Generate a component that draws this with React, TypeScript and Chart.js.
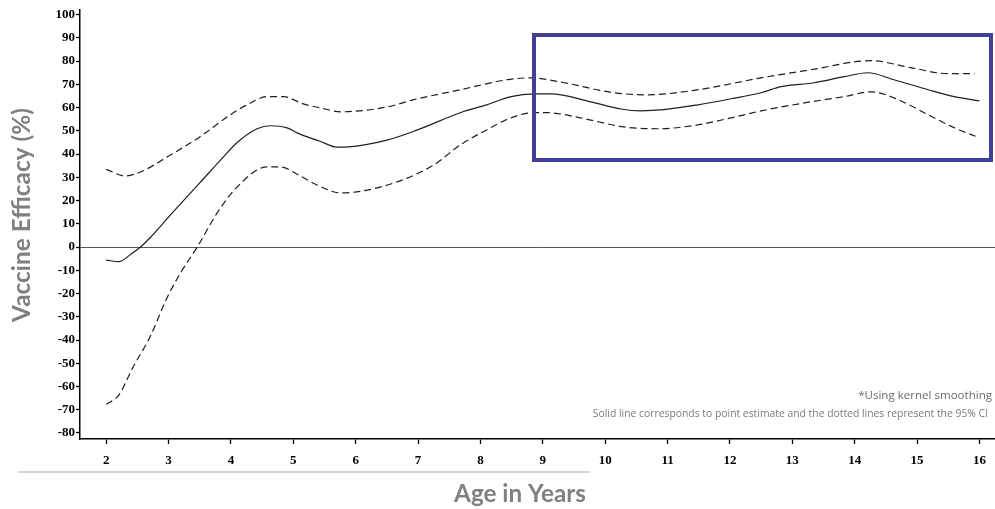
import React, { useEffect, useRef } from "react";
import { Chart, registerables } from "chart.js";

Chart.register(...registerables);

// Point estimate (solid line)
const estAges = [2.0, 2.2, 2.4, 2.55, 2.7, 3.03, 3.5, 3.88, 4.1, 4.42, 4.63, 4.9, 5.07, 5.43, 5.7, 5.88, 6.5, 6.99, 7.73, 8.1, 8.49, 8.85, 9.13, 9.77, 10.25, 10.57, 10.94, 11.49, 12.02, 12.5, 12.82, 13.35, 13.83, 14.21, 14.63, 15.18, 15.6, 16.0];
const estValues = [-5.6, -6.3, -3, 0, 3.9, 13.8, 27.6, 38.8, 45, 50.9, 52.2, 51.3, 49, 45.5, 43, 43.1, 46, 50.4, 58.3, 61.2, 64.7, 65.9, 65.9, 62.5, 59.4, 58.6, 59.1, 61.2, 63.8, 66.4, 69, 70.7, 73.3, 75, 72, 67.7, 64.7, 62.9];

// Upper 95% CI (dashed)
const upperAges = [2.0, 2.3, 2.55, 2.98, 3.5, 3.99, 4.26, 4.58, 4.84, 5.16, 5.43, 5.76, 6.51, 6.93, 7.68, 8.43, 8.8, 9.34, 10.14, 10.68, 11.49, 12.5, 13.3, 14.26, 14.9, 15.5, 15.92];
const upperValues = [33.4, 30.6, 32.3, 38.8, 47.4, 56.9, 61.2, 64.7, 64.7, 61.6, 59.9, 58.2, 60.3, 63.4, 67.7, 72, 72.8, 70.7, 66.4, 65.5, 67.7, 72.8, 76.3, 80.2, 77.2, 74.6, 74.6];

// Lower 95% CI (dashed)
const lowerAges = [2.0, 2.2, 2.43, 2.7, 2.98, 3.22, 3.46, 3.78, 4.1, 4.58, 4.79, 5.11, 5.38, 5.76, 6.51, 7.25, 7.68, 8.1, 8.49, 8.85, 9.08, 9.6, 10.3, 10.84, 11.49, 12.02, 12.5, 13.3, 13.83, 14.26, 14.63, 15.18, 15.6, 16.0];
const lowerValues = [-67.7, -63.8, -51.7, -38.8, -21.6, -9.9, 0, 14.7, 25.9, 34.5, 34.5, 30.6, 26.7, 23.3, 26.7, 35.3, 44, 50.4, 55.6, 57.8, 57.8, 55.6, 51.7, 50.9, 52.6, 55.6, 58.6, 62.5, 64.7, 66.8, 64.2, 56.9, 51.3, 47];

const xTicks = [2, 3, 4, 5, 6, 7, 8, 9, 10, 11, 12, 13, 14, 15, 16];
const yTicks = [-80, -70, -60, -50, -40, -30, -20, -10, 0, 10, 20, 30, 40, 50, 60, 70, 80, 90, 100];

const yTitle = "Vaccine Efficacy (%)";
const xTitle = "Age in Years";
const note1 = "*Using kernel smoothing";
const note2 = "Solid line corresponds to point estimate and the dotted lines represent the 95% CI";

const toPoints = (xs: number[], ys: number[]) => xs.map((x, i) => ({ x, y: ys[i] }));

function fitFont(ctx: CanvasRenderingContext2D, text: string, weight: string, family: string, base: number, target: number) {
  ctx.font = `${weight} ${base}px ${family}`;
  const w = ctx.measureText(text).width;
  const size = base * target / w;
  ctx.font = `${weight} ${size}px ${family}`;
}

const decorPlugin = {
  id: "decor",
  afterDraw(chart: any) {
    const ctx: CanvasRenderingContext2D = chart.ctx;
    ctx.save();
    // Y title
    ctx.translate(22, 215);
    ctx.rotate(-Math.PI / 2);
    fitFont(ctx, yTitle, "bold", "Lato, 'Open Sans', sans-serif", 23, 214);
    ctx.fillStyle = "#808080";
    ctx.textAlign = "center";
    ctx.textBaseline = "middle";
    ctx.fillText(yTitle, 0, 0);
    ctx.restore();

    ctx.save();
    fitFont(ctx, xTitle, "bold", "Lato, 'Open Sans', sans-serif", 22, 132);
    ctx.fillStyle = "#808080";
    ctx.textAlign = "center";
    ctx.textBaseline = "alphabetic";
    ctx.fillText(xTitle, 520, 502);

    // light separator line under tick labels
    ctx.strokeStyle = "#d4d4d4";
    ctx.lineWidth = 2;
    ctx.beginPath();
    ctx.moveTo(18, 472);
    ctx.lineTo(590, 472);
    ctx.stroke();

    // notes
    ctx.textAlign = "right";
    ctx.textBaseline = "middle";
    fitFont(ctx, note1, "normal", "'Open Sans', Lato, sans-serif", 12, 134);
    ctx.fillStyle = "#6a6a6a";
    ctx.fillText(note1, 992, 396);
    fitFont(ctx, note2, "normal", "'Open Sans', Lato, sans-serif", 10, 396);
    ctx.fillStyle = "#7a7a7a";
    ctx.fillText(note2, 988, 414);

    // highlight box
    ctx.strokeStyle = "#40409a";
    ctx.lineWidth = 4;
    ctx.strokeRect(534, 35, 457, 125);
    ctx.restore();
  },
};

export default function App() {
  const ref = useRef<HTMLCanvasElement | null>(null);
  useEffect(() => {
    if (!ref.current) return;
    const lineBase = {
      pointRadius: 0,
      borderColor: "#1e1e1e",
      borderWidth: 1.2,
      cubicInterpolationMode: "monotone" as const,
      fill: false,
    };
    const chart = new Chart(ref.current, {
      type: "line",
      data: {
        datasets: [
          { ...lineBase, label: "Estimate", data: toPoints(estAges, estValues) },
          { ...lineBase, label: "Upper 95% CI", data: toPoints(upperAges, upperValues), borderDash: [7, 4] },
          { ...lineBase, label: "Lower 95% CI", data: toPoints(lowerAges, lowerValues), borderDash: [7, 4] },
        ],
      },
      options: {
        animation: false,
        responsive: false,
        devicePixelRatio: 1,
        layout: { padding: { left: 0, right: 0, top: 10, bottom: 0 } },
        plugins: { legend: { display: false }, tooltip: { enabled: false } },
        scales: {
          x: {
            type: "linear",
            min: 1.58,
            max: 16.25,
            afterBuildTicks: (s: any) => { s.ticks = xTicks.map((v) => ({ value: v })); },
            afterFit: (s: any) => { s.height = 70; },
            border: { display: true, color: "#000", width: 1.5 },
            grid: { display: true, drawOnChartArea: false, drawTicks: true, tickLength: 5, tickColor: "#000", tickWidth: 1.3 },
            ticks: {
              color: "#000",
              padding: 9,
              maxRotation: 0,
              font: { family: "'Liberation Serif', 'Times New Roman', serif", size: 13, weight: "bold" },
              callback: (v: any) => String(v),
            },
          },
          y: {
            type: "linear",
            min: -82.6,
            max: 102,
            afterBuildTicks: (s: any) => { s.ticks = yTicks.map((v) => ({ value: v })); },
            afterFit: (s: any) => { s.width = 80; },
            border: { display: true, color: "#000", width: 1.5 },
            grid: {
              display: true,
              drawOnChartArea: true,
              drawTicks: true,
              tickLength: 4,
              tickColor: "#000",
              tickWidth: 1.3,
              color: (c: any) => (c.tick && c.tick.value === 0 ? "#555" : "rgba(0,0,0,0)"),
              lineWidth: 1,
            },
            ticks: {
              color: "#000",
              padding: 1,
              font: { family: "'Liberation Serif', 'Times New Roman', serif", size: 13, weight: "bold" },
              callback: (v: any) => String(v),
            },
          },
        },
      },
      plugins: [decorPlugin],
    });
    return () => chart.destroy();
  }, []);
  return (
    <div style={{ position: "absolute", left: 0, top: 0, width: 995, height: 509, background: "#fff" }}>
      <canvas ref={ref} width={995} height={509} />
    </div>
  );
}
